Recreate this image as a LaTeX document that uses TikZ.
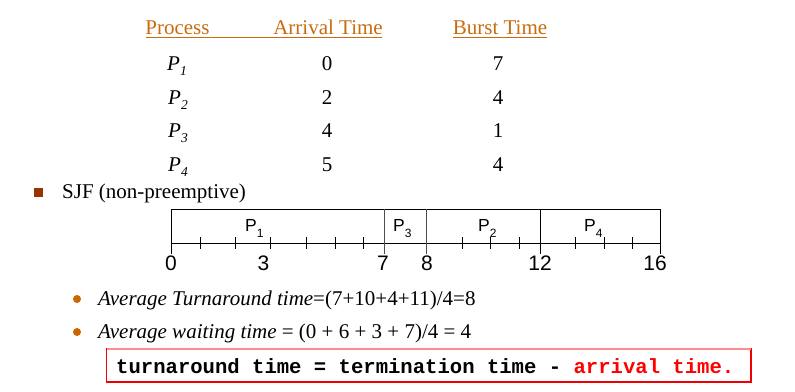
\documentclass[tikz,border=0pt]{standalone}
\usepackage{fontspec}
\setmainfont{Liberation Serif}
\newfontfamily\arialf{Liberation Sans}
\newfontfamily\monof{Liberation Mono}
\definecolor{hdr}{RGB}{200,108,16}
\definecolor{sqc}{RGB}{153,51,0}
\definecolor{dotc}{RGB}{204,102,0}
\definecolor{boxred}{RGB}{240,0,0}
\begin{document}
\begin{tikzpicture}[x=1pt,y=-1pt,
  txt/.style={inner sep=0pt, anchor=base, font=\fontsize{21}{24}\selectfont},
  hd/.style={txt, text=hdr},
  gtxt/.style={inner sep=0pt, anchor=base, font=\arialf\fontsize{21}{24}\selectfont},
  plab/.style={inner sep=0pt, anchor=base west, font=\arialf\fontsize{17.5}{20}\selectfont},
  gline/.style={line width=1pt, black},
  dline/.style={line width=1pt, black!70},
  tick/.style={line width=0.8pt, black},
  mono/.style={inner sep=0pt, anchor=base west, font=\monof\bfseries\fontsize{20.6}{24}\selectfont}]
\useasboundingbox (0,0) rectangle (795,391);

% ---- table header
\node[hd] (hproc) at (177.5,34.5) {Process};
\node[hd] (harr) at (328,34.5) {Arrival Time};
\node[hd] (hbur) at (500,34.5) {Burst Time};
\coordinate (u1a) at (146,37.8);
\coordinate (u1b) at (382,37.8);
\coordinate (u2a) at (453,37.8);
\coordinate (u2b) at (547,37.8);
\draw[hdr, line width=1pt] (u1a) -- (u1b);
\draw[hdr, line width=1pt] (u2a) -- (u2b);

% ---- table rows
\newcommand{\procP}[1]{\itshape P\raisebox{-5pt}{\fontsize{13.5}{14}\selectfont #1}}
\node[txt, anchor=base west] (p1) at (167,70) {\procP{1}};
\node[txt, anchor=base west] (p2) at (168,104) {\procP{2}};
\node[txt, anchor=base west] (p3) at (168,137) {\procP{3}};
\node[txt, anchor=base west] (p4) at (168,171) {\procP{4}};
\node[txt] (a1) at (327,70) {0};
\node[txt] (a2) at (327,104) {2};
\node[txt] (a3) at (327,137) {4};
\node[txt] (a4) at (327,171) {5};
\node[txt] (b1) at (498,70) {7};
\node[txt] (b2) at (498,104) {4};
\node[txt] (b3) at (498,137) {1};
\node[txt] (b4) at (498,171) {4};

% ---- SJF bullet
\fill[sqc] (33.5,187.5) rectangle (42.5,196.5);
\node[txt, anchor=base west] (sjf) at (62,198.5) {SJF (non-preemptive)};

% ---- Gantt chart
\draw[gline] (171,209) -- (660,209);
\draw[gline] (171,243) -- (660,243);
\draw[gline] (171,209) -- (171,254);
\draw[dline] (384,209) -- (384,254);
\draw[dline] (426,209) -- (426,254);
\draw[gline] (540,209) -- (540,254);
\draw[gline] (660,209) -- (660,254);
\foreach \x in {200,235,270,306,335,363,462,490,519,575,604,632}
  \draw[tick] (\x,237) -- (\x,249);

\newcommand{\gP}[1]{P\raisebox{-6.5pt}{\fontsize{12}{13}\selectfont #1}}
\node[plab] (g1) at (245,231) {\gP{1}};
\node[plab] (g3) at (393,231) {\gP{3}};
\node[plab] (g2) at (478,231) {\gP{2}};
\node[plab] (g4) at (584,231) {\gP{4}};

\node[gtxt] (t0) at (171,270) {0};
\node[gtxt] (t3) at (263.5,270) {3};
\node[gtxt] (t7) at (383,270) {7};
\node[gtxt] (t8) at (427,270) {8};
\node[gtxt] (t12) at (540,270) {12};
\node[gtxt] (t16) at (655,270) {16};

% ---- averages
\fill[dotc] (77,299) circle (4);
\fill[dotc] (77,332) circle (4);
\node[txt, anchor=base west] (avt) at (98,305) {\textit{Average Turnaround time}=(7+10+4+11)/4=8};
\node[txt, anchor=base west] (avw) at (98,338) {\textit{Average waiting time} = (0 + 6 + 3 + 7)/4 = 4};

% ---- red box
\draw[boxred, line width=1.2pt] (106.5,349) rectangle (751,382);
\draw[red!45, line width=1.2pt] (106.5,349) -- (751,349);
\node[mono] (form) at (116,373) {turnaround time = termination time - \textcolor{red}{arrival time.}};
\end{tikzpicture}
\end{document}
